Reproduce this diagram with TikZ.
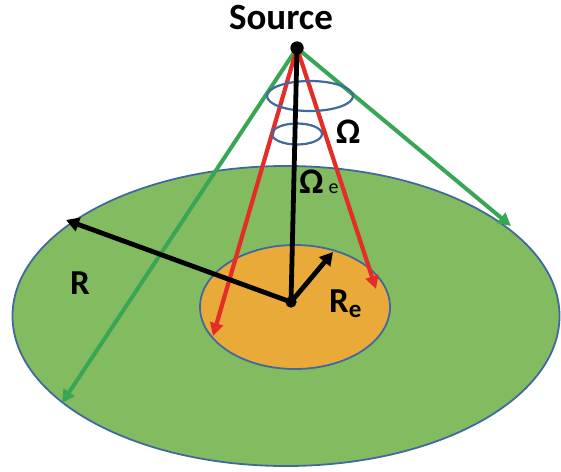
\documentclass[tikz,border=0pt]{standalone}
\usepackage{fontspec}
\setmainfont{Carlito}
\usetikzlibrary{arrows.meta,shapes.geometric}
\definecolor{fieldgreen}{RGB}{131,188,96}
\definecolor{coregold}{RGB}{234,170,58}
\definecolor{rimblue}{RGB}{65,105,156}
\definecolor{raygreen}{RGB}{56,166,84}
\definecolor{rayred}{RGB}{228,45,40}
\begin{document}
\begin{tikzpicture}[x=1pt,y=-1pt,
  zone/.style={draw=rimblue, line width=1.8pt, ellipse, inner sep=0pt},
  ring/.style={draw=rimblue, line width=2.2pt, ellipse, inner sep=0pt},
  blackray/.style={draw=black, line width=4.8pt, -{Triangle[length=13pt,width=14pt]}},
  redray/.style={draw=rayred, line width=4.2pt, -{Triangle[length=13pt,width=13pt]}},
  greenray/.style={draw=raygreen, line width=4pt, -{Triangle[length=13pt,width=13pt]}},
  dot/.style={circle, fill=black, inner sep=0pt},
  lbl/.style={font=\bfseries, inner sep=0pt}]
\useasboundingbox (0,0) rectangle (561,471);
% ground zones
\node[zone, fill=fieldgreen, minimum width=547pt, minimum height=300pt] (field) at (286,316) {};
\node[zone, fill=coregold, minimum width=190pt, minimum height=124pt] (core) at (295,307) {};
% points
\node[dot, minimum size=13pt] (src) at (297,48) {};
\node[dot, minimum size=11pt] (ctr) at (291,302) {};
\coordinate (gL) at (62,403);
\coordinate (gR) at (511,226);
\coordinate (rL) at (213,336);
\coordinate (rR) at (376,289);
\coordinate (bR) at (66,220);
\coordinate (bRe) at (333,252);
% rays
\draw[greenray] (src.center) -- (gL);
\draw[greenray] (src.center) -- (gR);
\draw[redray] (src.center) -- (rL);
\draw[redray] (src.center) -- (rR);
% solid angle rings
\node[ring, minimum width=86pt, minimum height=30pt] (bigring) at (310,96) {};
\node[ring, minimum width=50pt, minimum height=21pt] (smallring) at (297,134) {};
% radii
\draw[black, line width=4.8pt] (src.center) -- (ctr.center);
\draw[blackray] (ctr.center) -- (bR);
\draw[blackray] (ctr.center) -- (bRe);
\node[dot, minimum size=13pt] at (src) {};
\node[dot, minimum size=11pt] at (ctr) {};
% labels
\node[lbl, font=\bfseries\fontsize{37}{37}\selectfont] (srclbl) at (281,18) {Source};
\node[lbl, anchor=base, font=\bfseries\fontsize{36}{36}\selectfont] (omega) at (348,143) {Ω};
\node[lbl, anchor=base west, font=\bfseries\fontsize{36}{36}\selectfont] (omegae) at (299,193) {Ω\hspace{5pt}{\mdseries\fontsize{20}{20}\selectfont e}};
\node[lbl, font=\bfseries\fontsize{35}{35}\selectfont] (rlbl) at (80,283) {R};
\node[lbl, anchor=base west, font=\bfseries\fontsize{35}{35}\selectfont] (relbl) at (329,312) {R\raisebox{-5pt}{\fontsize{25}{25}\selectfont e}};
\end{tikzpicture}
\end{document}
